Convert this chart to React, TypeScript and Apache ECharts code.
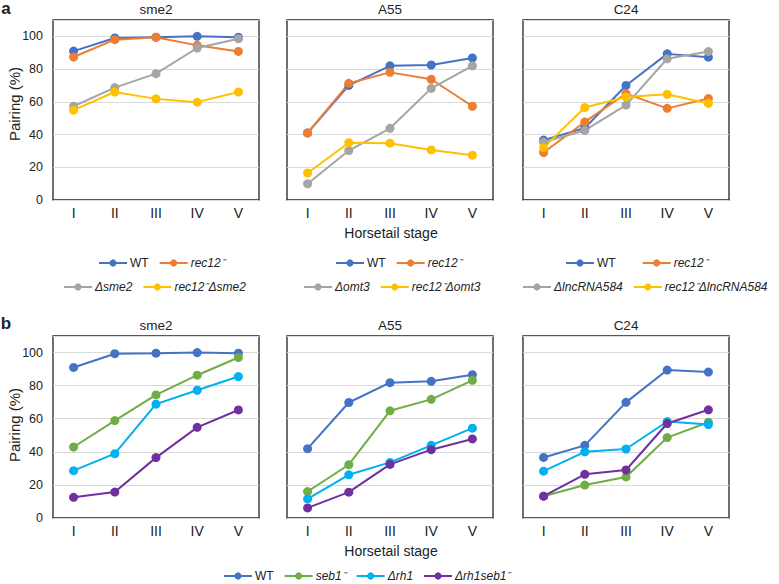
import React, { useEffect, useRef } from "react";
import * as echarts from "echarts";

const stages = ["I", "II", "III", "IV", "V"];
const yTicks = [0, 20, 40, 60, 80, 100];

// Panel a
const aSme2WT = [91, 99, 99.5, 100, 99.5];
const aSme2Rec12 = [87.4, 98, 99.5, 94.5, 90.8];
const aSme2Del = [57.3, 68.7, 77.2, 92.9, 98.6];
const aSme2Double = [54.9, 66, 61.8, 59.8, 66];

const aA55WT = [41, 70, 82, 82.5, 86.8];
const aA55Rec12 = [41, 71.3, 78, 73.8, 57.3];
const aA55Del = [9.9, 30.2, 43.8, 68.2, 82];
const aA55Double = [16.5, 35, 34.7, 30.6, 27.4];

const aC24WT = [36.6, 44, 70, 89.3, 87.3];
const aC24Rec12 = [29, 47.7, 65, 56, 62];
const aC24Del = [35.4, 42.5, 58, 86.3, 90.7];
const aC24Double = [32, 56.5, 63, 64.6, 59];

// Panel b
const bSme2WT = [91, 99.3, 99.6, 100, 99.6];
const bSme2Seb1 = [42.9, 58.9, 74.4, 86.3, 97];
const bSme2Rh1 = [28.6, 38.9, 68.8, 77.2, 85.5];
const bSme2Double = [12.5, 15.7, 36.5, 54.8, 65.3];

const bA55WT = [41.9, 69.8, 81.8, 82.6, 86.6];
const bA55Seb1 = [16, 32.2, 64.8, 71.7, 83.2];
const bA55Rh1 = [11.5, 26.1, 33.6, 43.9, 54.3];
const bA55Double = [6.1, 15.6, 32.4, 41.3, 47.8];

const bC24WT = [36.6, 43.9, 69.9, 89.4, 88.2];
const bC24Seb1 = [13.2, 19.9, 24.8, 48.6, 57.9];
const bC24Rh1 = [28.3, 40, 41.7, 58.3, 56.5];
const bC24Double = [13.2, 26.4, 29, 57.1, 65.4];

const panelTitles = ["sme2", "A55", "C24"];

const FONT = "'Liberation Sans', Arial, Helvetica, sans-serif";
const C = {
  blue: "#4472C4",
  orange: "#ED7D31",
  gray: "#A5A5A5",
  yellow: "#FFC000",
  green: "#70AD47",
  cyan: "#00B0F0",
  purple: "#7030A0",
};

export default function App() {
  const ref = useRef<HTMLDivElement>(null);

  useEffect(() => {
    if (!ref.current) return;
    const chart = echarts.init(ref.current, null, { renderer: "svg" });

    const lefts = [53, 287, 523];
    const W = 206;
    const rows = [
      { top: 20, height: 180 },
      { top: 336, height: 182 },
    ];

    const grids: any[] = [];
    const xAxes: any[] = [];
    const yAxes: any[] = [];
    for (let r = 0; r < 2; r++) {
      for (let c = 0; c < 3; c++) {
        const idx = r * 3 + c;
        grids.push({
          left: lefts[c],
          top: rows[r].top,
          width: W,
          height: rows[r].height,
          show: true,
          borderColor: "#222",
          borderWidth: 1.3,
          backgroundColor: "#fff",
          containLabel: false,
        });
        xAxes.push({
          type: "category",
          gridIndex: idx,
          data: stages,
          boundaryGap: true,
          axisLine: { show: false },
          axisTick: { show: false },
          axisLabel: { margin: 6, fontSize: 14, color: "#222", fontFamily: FONT },
          splitLine: { show: false },
        });
        yAxes.push({
          type: "value",
          gridIndex: idx,
          min: 0,
          max: 110,
          interval: 20,
          axisLine: { show: false },
          axisTick: { show: false },
          axisLabel: {
            show: c === 0,
            showMaxLabel: false,
            fontSize: 12.5,
            color: "#222",
            margin: 10,
            fontFamily: FONT,
            formatter: (v: number) => (yTicks.includes(v) ? String(v) : ""),
          },
          splitLine: { show: true, lineStyle: { color: "#d9d9d9", width: 1 } },
        });
      }
    }

    const mk = (name: string, data: number[], color: string, idx: number) => ({
      type: "line",
      name,
      data,
      xAxisIndex: idx,
      yAxisIndex: idx,
      symbol: "circle",
      symbolSize: 9,
      lineStyle: { color, width: 2 },
      itemStyle: { color },
      color,
    });

    const series = [
      mk("WT", aSme2WT, C.blue, 0),
      mk("rec12⁻", aSme2Rec12, C.orange, 0),
      mk("Δsme2", aSme2Del, C.gray, 0),
      mk("rec12⁻Δsme2", aSme2Double, C.yellow, 0),
      mk("WT", aA55WT, C.blue, 1),
      mk("rec12⁻", aA55Rec12, C.orange, 1),
      mk("Δomt3", aA55Del, C.gray, 1),
      mk("rec12⁻Δomt3", aA55Double, C.yellow, 1),
      mk("WT", aC24WT, C.blue, 2),
      mk("rec12⁻", aC24Rec12, C.orange, 2),
      mk("ΔlncRNA584", aC24Del, C.gray, 2),
      mk("rec12⁻ΔlncRNA584", aC24Double, C.yellow, 2),
      mk("WT", bSme2WT, C.blue, 3),
      mk("seb1⁻", bSme2Seb1, C.green, 3),
      mk("Δrh1", bSme2Rh1, C.cyan, 3),
      mk("Δrh1seb1⁻", bSme2Double, C.purple, 3),
      mk("WT", bA55WT, C.blue, 4),
      mk("seb1⁻", bA55Seb1, C.green, 4),
      mk("Δrh1", bA55Rh1, C.cyan, 4),
      mk("Δrh1seb1⁻", bA55Double, C.purple, 4),
      mk("WT", bC24WT, C.blue, 5),
      mk("seb1⁻", bC24Seb1, C.green, 5),
      mk("Δrh1", bC24Rh1, C.cyan, 5),
      mk("Δrh1seb1⁻", bC24Double, C.purple, 5),
    ];

    const item = (name: string) =>
      name === "WT" ? { name } : { name, textStyle: { fontStyle: "italic" } };
    const legend = (names: string[], left: number, top: number, gap = 10) => ({
      data: names.map(item),
      left,
      top,
      orient: "horizontal",
      itemWidth: 28,
      itemHeight: 9,
      itemGap: gap,
      selectedMode: false,
      textStyle: { fontSize: 12, color: "#222", fontFamily: FONT, padding: [0, 0, 0, -2] },
    });

    const legends = [
      legend(["WT", "rec12⁻"], 93, 252),
      legend(["Δsme2", "rec12⁻Δsme2"], 58, 276),
      legend(["WT", "rec12⁻"], 330, 252),
      legend(["Δomt3", "rec12⁻Δomt3"], 298, 276),
      legend(["WT", "rec12⁻"], 560, 252, 26),
      legend(["ΔlncRNA584", "rec12⁻ΔlncRNA584"], 517, 276),
      legend(["WT", "seb1⁻", "Δrh1", "Δrh1seb1⁻"], 218, 565),
    ];

    const graphics: any[] = [];
    const txt = (text: string, x: number, y: number, font: string, extra: any = {}) => ({
      type: "text",
      x,
      y,
      ...extra,
      style: {
        text,
        font,
        fill: "#222",
        textAlign: "center",
        textVerticalAlign: "middle",
      },
    });
    for (let r = 0; r < 2; r++) {
      for (let c = 0; c < 3; c++) {
        graphics.push(
          txt(panelTitles[c], lefts[c] + W / 2, rows[r].top - 11, `13.5px ${FONT}`)
        );
      }
    }
    graphics.push(txt("Horsetail stage", 391, 233, `14px ${FONT}`));
    graphics.push(txt("Horsetail stage", 391, 551, `14px ${FONT}`));
    graphics.push(
      txt("Pairing (%)", 14, 104, `15px ${FONT}`, { rotation: Math.PI / 2 })
    );
    graphics.push(
      txt("Pairing (%)", 14, 425, `15px ${FONT}`, { rotation: Math.PI / 2 })
    );
    graphics.push(txt("a", 6, 8, `bold 17px ${FONT}`));
    graphics.push(txt("b", 6, 323, `bold 17px ${FONT}`));

    chart.setOption({
      animation: false,
      backgroundColor: "#fff",
      grid: grids,
      xAxis: xAxes,
      yAxis: yAxes,
      legend: legends,
      series,
      graphic: graphics,
    });

    return () => chart.dispose();
  }, []);

  return (
    <div
      ref={ref}
      style={{ position: "fixed", left: 0, top: 0, width: 779, height: 584 }}
    />
  );
}
